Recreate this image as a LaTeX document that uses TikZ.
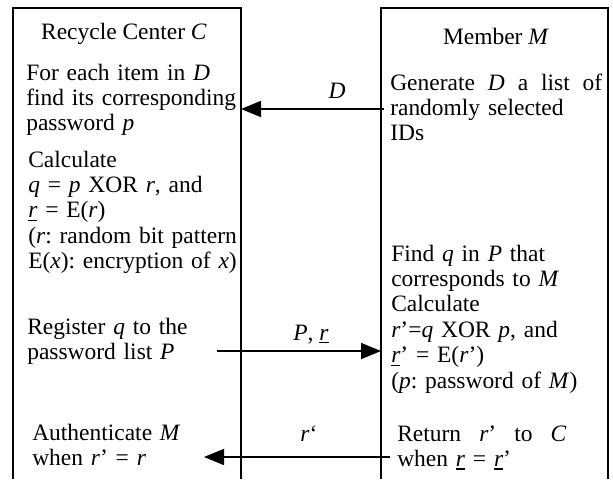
\documentclass[tikz,border=0pt]{standalone}
\usepackage{fontspec}
\setmainfont{Liberation Serif}
\usetikzlibrary{arrows.meta,positioning}
\newcommand{\undr}[1]{\leavevmode\setbox0\hbox{#1}\rlap{\rule[-2.6pt]{\wd0}{1.1pt}}\box0\relax}
\frenchspacing

\begin{document}
\begin{tikzpicture}[x=0.75pt, y=-0.75pt,
    font=\fontsize{17.6}{19.1}\selectfont,
    frame/.style={line width=1.2pt},
    msg/.style={line width=1.2pt, -{Triangle[length=15pt,width=12pt]}},
    txt/.style={anchor=base west, inner sep=0pt, align=left, text width=175pt},
    lbl/.style={anchor=base, inner sep=0pt}]
    \useasboundingbox (0,0) rectangle (613,479);

    % Boxes
    \draw[frame] (13,479) |- (241,8) -- (241,479);
    \draw[frame] (381,479) |- (608,8) -- (608,479);

    % Recycle center
    \node[lbl] (cTitle) at (124,39) {Recycle Center \textit{C}};
    \node[txt] (cFind) at (26,80) {For each item in \textit{D}\\ find its corresponding\\ password \textit{p}};
    \node[txt] (cCalc) at (28,167) {Calculate\\ \textit{q} = \textit{p} XOR \textit{r}, and\\ \undr{\textit{r}} = E(\textit{r})\\ (\textit{r}: random bit pattern\\ E(\textit{x}): encryption of \textit{x})};
    \node[txt] (cReg) at (27,334) {Register \textit{q} to the\\ password list \textit{P}};
    \node[txt] (cAuth) at (32,440) {Authenticate \textit{M}\\ when \textit{r}’ = \textit{r}};

    % Member
    \node[lbl] (mTitle) at (496,44) {Member \textit{M}};
    \node[txt] (mGen) at (390,90) {\hbox to 159pt{Generate \hfill\textit{D} \hfill a \hfill list \hfill of}\\ randomly selected\\ IDs};
    \node[txt] (mFind) at (391,261) {Find \textit{q} in \textit{P} that\\ corresponds to \textit{M}\\ Calculate\\ \textit{r}’=\textit{q} XOR \textit{p}, and\\ \undr{\textit{r}}’ = E(\textit{r}’)\\ (\textit{p}: password of \textit{M})};
    \node[txt] (mRet) at (397,441) {\hbox to 127pt{Return \hfill\textit{r}’ \hfill to \hfill\textit{C}}\\ when \undr{\textit{r}} = \undr{\textit{r}}’};

    % Messages
    \coordinate (dFrom) at (384,109);
    \coordinate (dTo) at (241,109);
    \coordinate (pFrom) at (217,351);
    \coordinate (pTo) at (381,351);
    \coordinate (rFrom) at (390,457);
    \coordinate (rTo) at (204,457);
    \draw[msg] (dFrom) -- (dTo);
    \draw[msg] (pFrom) -- (pTo);
    \draw[msg] (rFrom) -- (rTo);
    \node[lbl] (dLab) at (337,98) {\textit{D}};
    \node[lbl] (pLab) at (311,340) {\textit{P}, \undr{\textit{r}}};
    \node[lbl] (rLab) at (309,441) {\textit{r}‘};
\end{tikzpicture}
\end{document}
